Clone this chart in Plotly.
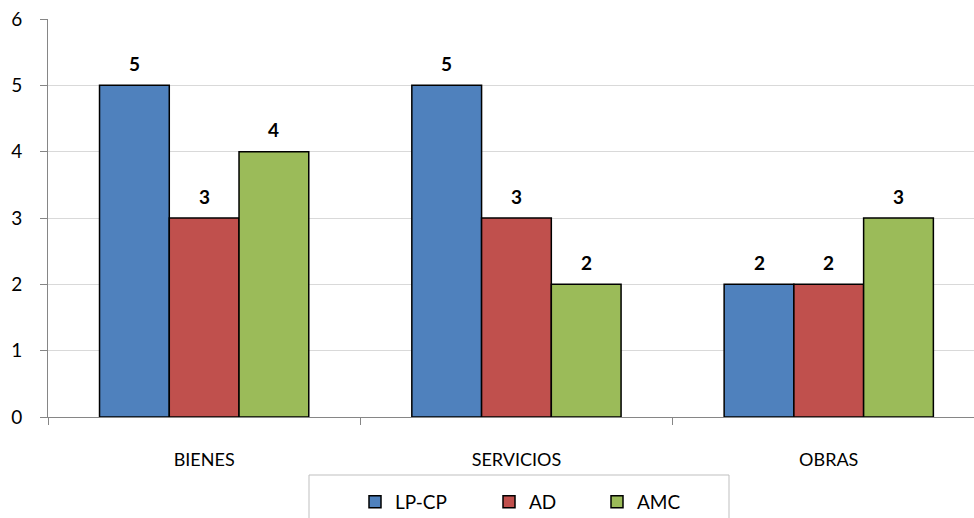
import plotly.graph_objects as go

categories = ["BIENES", "SERVICIOS", "OBRAS"]
series_names = ["LP-CP", "AD", "AMC"]
lp_cp = [5, 5, 2]
ad = [3, 3, 2]
amc = [4, 2, 3]
colors = ["#4F81BD", "#C0504D", "#9BBB59"]

W, H = 974, 518
ML, MR, MT, MB = 48, 0, 19, 101
plot_w = W - ML - MR
plot_h = H - MT - MB
cat_px = 312.3                      # pixel width of one category slot
x_hi = -0.5 + plot_w / cat_px       # right edge runs slightly past the last slot
bargap = 0.33
bar_px = cat_px * (1 - bargap) / 3

FONT = "Lato, 'Open Sans', sans-serif"

fig = go.Figure()
legend_ids = ["legend", "legend2", "legend3"]
for i, (name, vals) in enumerate(zip(series_names, [lp_cp, ad, amc])):
    fig.add_trace(go.Bar(
        x=categories, y=vals, name=name,
        marker=dict(color=colors[i], line=dict(color="#000000", width=1.5)),
        legend=legend_ids[i],
    ))
    for c, v in zip(categories, vals):
        fig.add_annotation(
            x=c, y=v, xref="x", yref="y", text=f"<b>{v}</b>",
            showarrow=False, xshift=(i - 1) * bar_px, yshift=22,
            font=dict(family=FONT, size=19, color="#000000"),
        )

# legend frame
fig.add_shape(type="rect", xref="paper", yref="paper",
              x0=(309 - ML) / plot_w, x1=(729 - ML) / plot_w,
              y0=-(475 - (H - MB)) / plot_h, y1=-(540 - (H - MB)) / plot_h,
              line=dict(color="#BFBFBF", width=1), fillcolor="rgba(0,0,0,0)", layer="above")

leg_y = -(483 - (H - MB)) / plot_h
leg_x = [355, 489, 597]
layout_legends = {}
for lid, lx in zip(legend_ids, leg_x):
    layout_legends[lid] = dict(
        x=(lx - ML) / plot_w, xanchor="left", y=leg_y, yanchor="top",
        orientation="h", bgcolor="rgba(0,0,0,0)", borderwidth=0,
        font=dict(family=FONT, size=19, color="#000000"),
        itemclick=False, itemdoubleclick=False,
    )

fig.update_layout(
    width=W, height=H,
    margin=dict(l=ML, r=MR, t=MT, b=MB, autoexpand=False),
    paper_bgcolor="#FFFFFF", plot_bgcolor="#FFFFFF",
    barmode="group", bargap=bargap, bargroupgap=0,
    font=dict(family=FONT, size=18, color="#000000"),
    showlegend=True,
    **layout_legends,
)

fig.update_xaxes(
    type="category", range=[-0.5, x_hi],
    showgrid=False, showline=True, linecolor="#868686", linewidth=1,
    ticks="outside", tickson="boundaries", ticklen=7, tickcolor="#868686",
    ticklabelstandoff=26, tickfont=dict(family=FONT, size=18, color="#000000"),
    zeroline=False, fixedrange=True,
)
fig.update_yaxes(
    range=[0, 6], dtick=1, tick0=0,
    showgrid=True, gridcolor="#D9D9D9", gridwidth=1,
    showline=True, linecolor="#868686", linewidth=1,
    ticks="outside", ticklen=7, tickcolor="#868686",
    ticklabelstandoff=14, tickfont=dict(family=FONT, size=19, color="#000000"),
    zeroline=False, fixedrange=True,
)

fig.write_html("out.html", config={"displayModeBar": False})
